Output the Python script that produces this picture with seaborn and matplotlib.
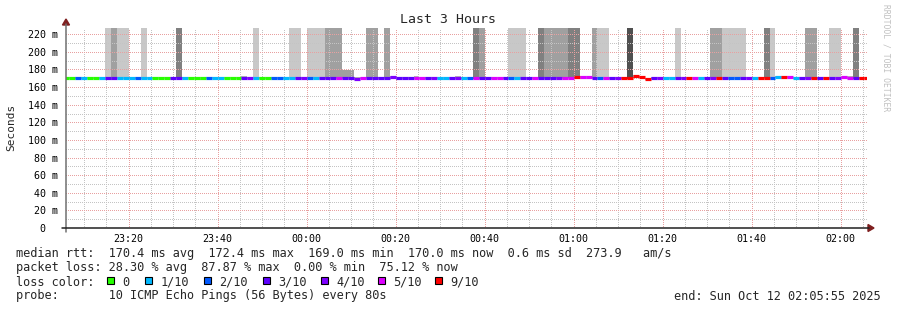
import matplotlib
matplotlib.use("Agg")
import matplotlib.pyplot as plt
import seaborn as sns
import numpy as np
import pandas as pd
from matplotlib.lines import Line2D
from matplotlib.patches import Polygon, Rectangle

# ---------------- data ----------------
title = "Last 3 Hours"
ylabel = "Seconds"
watermark = "RRDTOOL / TOBI OETIKER"
view_start = "23:05:55"
view_end = "02:05:55"
step_start = "23:05:21"
step_seconds = 80

xtick_labels = ["23:20", "23:40", "00:00", "00:20", "00:40", "01:00", "01:20", "01:40", "02:00"]
ytick_values = [0, 20, 40, 60, 80, 100, 120, 140, 160, 180, 200, 220]
ytick_labels = ["0  ", "20 m", "40 m", "60 m", "80 m", "100 m", "120 m", "140 m",
                "160 m", "180 m", "200 m", "220 m"]

# median rtt per 80 s step (ms)
medians = [
    170.2, 170.3, 170.6, 170.5, 170.2, 170.3, 170.4, 169.9, 169.9, 170.3,
    170.3, 170.2, 170.4, 170.5, 170.3, 170.1, 170.1, 170.2, 170.5, 170.0,
    170.3, 170.1, 170.2, 170.1, 170.4, 170.3, 170.5, 170.0, 170.0, 170.1,
    170.8, 170.2, 170.3, 170.1, 170.1, 170.4, 170.6, 170.3, 170.3, 170.6,
    170.5, 170.6, 170.3, 170.4, 170.3, 170.5, 170.4, 170.7, 170.2, 169.6,
    170.3, 170.5, 170.4, 170.2, 170.6, 170.9, 170.2, 170.4, 170.4, 170.7,
    170.7, 170.4, 170.5, 170.2, 170.0, 170.4, 170.8, 170.5, 170.4, 170.7,
    170.3, 170.3, 170.6, 170.6, 170.5, 170.6, 170.4, 170.3, 170.6, 170.1,
    170.3, 170.6, 170.6, 170.5, 170.4, 170.7, 170.9, 171.3, 171.0, 170.6,
    170.5, 170.4, 170.6, 170.6, 170.5, 170.5, 172.4, 171.1, 169.0, 170.2,
    170.3, 170.6, 170.5, 170.3, 170.5, 170.6, 170.4, 170.4, 170.5, 170.6,
    170.4, 170.4, 170.7, 170.5, 170.3, 170.6, 170.5, 170.5, 170.3, 170.6,
    171.4, 170.9, 171.6, 170.5, 170.3, 170.6, 170.6, 170.5, 170.2, 170.5,
    170.4, 170.9, 170.8, 170.4, 170.5, 170.5,
]

# lost pings (out of 10) per step
loss = [
    0, 0, 2, 1, 0, 0, 1, 3, 3, 1,
    1, 1, 2, 1, 1, 0, 0, 0, 3, 3,
    1, 0, 0, 0, 2, 1, 1, 0, 0, 0,
    3, 4, 1, 0, 0, 2, 2, 1, 1, 3,
    4, 2, 1, 3, 3, 3, 5, 3, 3, 4,
    5, 3, 3, 3, 3, 4, 3, 3, 3, 5,
    5, 3, 4, 1, 1, 3, 4, 1, 2, 5,
    3, 3, 5, 5, 3, 2, 1, 3, 3, 5,
    3, 3, 3, 4, 5, 5, 9, 5, 5, 3,
    2, 5, 3, 4, 9, 9, 9, 9, 9, 3,
    4, 1, 1, 3, 4, 9, 5, 1, 3, 4,
    9, 3, 2, 2, 3, 4, 1, 9, 9, 2,
    1, 9, 5, 1, 3, 4, 9, 3, 9, 3,
    4, 5, 5, 3, 9, 9,
]

# smallest ping per step (ms)
ping_min = [
    169.0, 169.1, 169.4, 169.2, 169.0, 169.1, 169.2, 168.6, 168.4, 169.1,
    169.0, 169.0, 169.2, 169.3, 169.1, 168.8, 168.7, 168.9, 169.2, 168.9,
    169.1, 168.9, 169.0, 168.6, 169.2, 169.0, 169.3, 168.7, 168.8, 168.9,
    169.4, 169.0, 169.1, 168.9, 168.8, 169.1, 169.2, 169.0, 169.0, 169.2,
    169.3, 169.3, 169.0, 169.1, 168.9, 169.2, 169.1, 169.4, 168.9, 168.4,
    169.0, 169.2, 169.1, 168.9, 169.3, 169.6, 168.6, 168.9, 169.1, 169.3,
    169.4, 169.1, 169.0, 168.8, 168.5, 169.0, 169.5, 169.1, 169.1, 169.3,
    169.0, 169.0, 169.2, 169.3, 169.1, 169.2, 169.1, 168.9, 169.2, 168.8,
    168.9, 169.1, 169.2, 169.1, 169.0, 169.3, 169.5, 169.8, 169.6, 169.3,
    169.0, 169.1, 169.2, 169.3, 169.1, 169.0, 170.0, 169.9, 168.0, 168.9,
    169.0, 169.2, 169.2, 169.0, 169.2, 169.3, 169.1, 168.9, 169.2, 169.3,
    169.1, 169.1, 169.3, 169.2, 169.0, 169.3, 169.2, 169.1, 168.9, 169.2,
    170.0, 169.5, 170.2, 169.2, 169.0, 169.3, 169.2, 169.1, 168.9, 169.2,
    169.0, 169.6, 169.4, 169.1, 169.2, 169.2,
]

# largest ping per step (ms); 400 = far beyond the top of the graph
ping_max = [
    171.5, 171.6, 172.0, 171.8, 171.4, 171.5, 171.7, 400, 400, 400,
    400, 171.6, 171.8, 400, 171.7, 171.3, 171.2, 171.4, 171.9, 400,
    171.6, 171.3, 171.4, 171.2, 171.8, 171.6, 171.9, 171.1, 171.2, 171.3,
    172.3, 171.5, 400, 171.3, 171.2, 171.8, 172.0, 171.6, 400, 400,
    171.9, 400, 400, 400, 400, 400, 400, 179, 179, 170.9,
    171.6, 400, 400, 171.4, 400, 172.3, 171.4, 171.7, 171.7, 172.1,
    172.0, 171.7, 171.9, 171.4, 171.2, 171.7, 172.2, 171.8, 171.7, 400,
    400, 171.6, 172.0, 171.9, 171.8, 400, 400, 400, 171.9, 171.3,
    400, 400, 400, 400, 400, 400, 400, 172.6, 172.3, 400,
    400, 400, 171.9, 172.0, 171.8, 400, 173.8, 172.4, 170.3, 171.5,
    171.6, 171.9, 171.8, 400, 171.8, 171.9, 171.7, 171.8, 171.8, 400,
    400, 400, 400, 400, 400, 171.9, 171.8, 171.8, 400, 400,
    172.8, 172.2, 173.0, 171.8, 171.6, 400, 400, 171.8, 171.5, 400,
    400, 172.2, 172.1, 400, 171.8, 171.8,
]

# smoke density level of the spread (0 = narrow, 1..4 = lighter..darker)
smoke_level = [
    0, 0, 0, 0, 0, 0, 0, 1, 2, 1,
    1, 0, 0, 1, 0, 0, 0, 0, 0, 3,
    0, 0, 0, 0, 0, 0, 0, 0, 0, 0,
    0, 0, 1, 0, 0, 0, 0, 0, 1, 1,
    0, 1, 1, 1, 2, 2, 2, 2, 2, 0,
    0, 2, 2, 0, 2, 0, 0, 0, 0, 0,
    0, 0, 0, 0, 0, 0, 0, 0, 0, 3,
    2, 0, 0, 0, 0, 1, 1, 1, 0, 0,
    3, 2, 2, 2, 2, 3, 3, 0, 0, 2,
    1, 1, 0, 0, 0, 4, 0, 0, 0, 0,
    0, 0, 0, 1, 0, 0, 0, 0, 0, 2,
    2, 1, 1, 1, 1, 0, 0, 0, 3, 1,
    0, 0, 0, 0, 0, 2, 2, 0, 0, 1,
    1, 0, 0, 3, 0, 0,
]

loss_labels = ["0", "1/10", "2/10", "3/10", "4/10", "5/10", "9/10"]
loss_values = [0, 1, 2, 3, 4, 5, 9]
loss_colors = ["#26ff00", "#00b8ff", "#0059ff", "#5e00ff", "#7e00ff", "#dd00ff", "#ff0000"]
smoke_colors = ["#b4b4b4", "#c8c8c8", "#a0a0a0", "#808080", "#505050"]

stats_rtt = "median rtt:  170.4 ms avg  172.4 ms max  169.0 ms min  170.0 ms now  0.6 ms sd  273.9   am/s"
stats_loss = "packet loss: 28.30 % avg  87.87 % max  0.00 % min  75.12 % now"
probe_text = "probe:       10 ICMP Echo Pings (56 Bytes) every 80s"
end_text = "end: Sun Oct 12 02:05:55 2025"

# ---------------- helpers ----------------
def to_min(s):
    parts = [int(v) for v in s.split(":")]
    h, m = parts[0], parts[1]
    sec = parts[2] if len(parts) > 2 else 0
    if h < 12:
        h += 24
    return (h - 23) * 60 + m + sec / 60.0

x0 = to_min(view_start)
x1 = to_min(view_end)
step_min = step_seconds / 60.0
n = len(medians)
df = pd.DataFrame({
    "t0": [to_min(step_start) + i * step_min for i in range(n)],
    "median": medians, "loss": loss, "lo": ping_min, "hi": ping_max, "level": smoke_level,
})
df["t1"] = df["t0"] + step_min
cmap = dict(zip(loss_values, loss_colors))

# ---------------- figure ----------------
sns.set_theme(style="white")
plt.rcParams['font.family'] = ['DejaVu Sans Mono', 'DejaVu Sans']
W, H = 897, 310
fig = plt.figure(figsize=(W / 100, H / 100), dpi=100)
fig.patch.set_facecolor("white")
L, R, B, T = 66, 867, 228, 28
ax = fig.add_axes([L / W, (H - B) / H, (R - L) / W, (B - T) / H])
ax.set_facecolor("white")
ax.set_xlim(x0, x1)
ax.set_ylim(0, 227.1)
sns.despine(ax=ax, left=True, bottom=True, top=True, right=True)

# smoke
ax.bar(df["t0"], df["hi"] - df["lo"], bottom=df["lo"], width=step_min, align="edge",
       color=[smoke_colors[v] for v in df["level"]], linewidth=0, zorder=1)

# median line coloured by loss
lc = ax.hlines(df["median"], df["t0"], df["t1"], colors=[cmap[v] for v in df["loss"]],
               linewidth=2.3, zorder=2)
lc.set_capstyle("butt")

# ticks and grid
major_x = [to_min(s) for s in xtick_labels]
minor_x = np.arange(major_x[0] - 15, x1, 5)
ax.set_xticks(major_x)
ax.set_xticklabels(xtick_labels)
ax.set_xticks([v for v in minor_x if x0 < v < x1 and v not in major_x], minor=True)
ax.set_yticks(ytick_values)
ax.set_yticklabels(ytick_labels)
ax.set_yticks(np.arange(10, 227, 20), minor=True)
ax.tick_params(axis="both", which="both", labelsize=7.2, colors="#000000")
ax.tick_params(axis="y", which="major", length=4, width=0.7, color="#e8a0a0", pad=2)
ax.tick_params(axis="x", which="major", length=3, width=0.7, color="#e8a0a0", pad=1.5)
ax.tick_params(axis="both", which="minor", length=0)
ax.grid(which="major", color="#e8a0a0", linewidth=0.72, linestyle=(0, (1, 2)),
        antialiased=False)
ax.grid(which="minor", color="#c4c4c4", linewidth=0.72, linestyle=(0, (1, 2)),
        antialiased=False)
ax.set_axisbelow("line")

# axes lines + arrows (figure pixel coords)
def fx(px):
    return px / W

def fy(py):
    return 1 - py / H

fig.add_artist(Line2D([fx(L), fx(L)], [fy(B + 4), fy(24)], color="#707070", linewidth=1.1))
fig.add_artist(Line2D([fx(L - 4), fx(R + 2)], [fy(B), fy(B)], color="#202020", linewidth=1.1))
fig.add_artist(Polygon([[fx(L - 3.5), fy(25)], [fx(L + 3.5), fy(25)], [fx(L), fy(19)]],
                       closed=True, color="#7f1f1f"))
fig.add_artist(Polygon([[fx(R + 1), fy(B - 3.5)], [fx(R + 1), fy(B + 3.5)], [fx(R + 7), fy(B)]],
                       closed=True, color="#7f1f1f"))

# titles
fig.text(fx(448), fy(23), title, ha="center", va="baseline", fontsize=9.5)
fig.text(fx(11), fy(127), ylabel, ha="center", va="center", rotation=90, fontsize=8)
fig.text(fx(886), fy(4), watermark, ha="center", va="top", rotation=270, fontsize=5.8,
         color="#c0c0c0")

# legend block
fs = 8.55
fig.text(fx(16), fy(257.5), stats_rtt, ha="left", va="baseline", fontsize=fs)
fig.text(fx(16), fy(271.5), stats_loss, ha="left", va="baseline", fontsize=fs)
fig.text(fx(16), fy(285.5), "loss color:", ha="left", va="baseline", fontsize=fs)
fig.text(fx(16), fy(299.5), probe_text, ha="left", va="baseline", fontsize=fs)
fig.text(fx(881), fy(299.5), end_text, ha="right", va="baseline", fontsize=fs)

box_x = [107.3, 145, 204, 262.7, 320.7, 377.7, 435]
for bx, lab, col in zip(box_x, loss_labels, loss_colors):
    fig.add_artist(Rectangle((fx(bx), fy(283.5)), 7 / W, 7 / H, facecolor=col,
                             edgecolor="black", linewidth=0.8))
    fig.text(fx(bx + 15.3), fy(285.5), lab, ha="left", va="baseline", fontsize=fs)

fig.savefig("out.png", dpi=100, facecolor="white")
